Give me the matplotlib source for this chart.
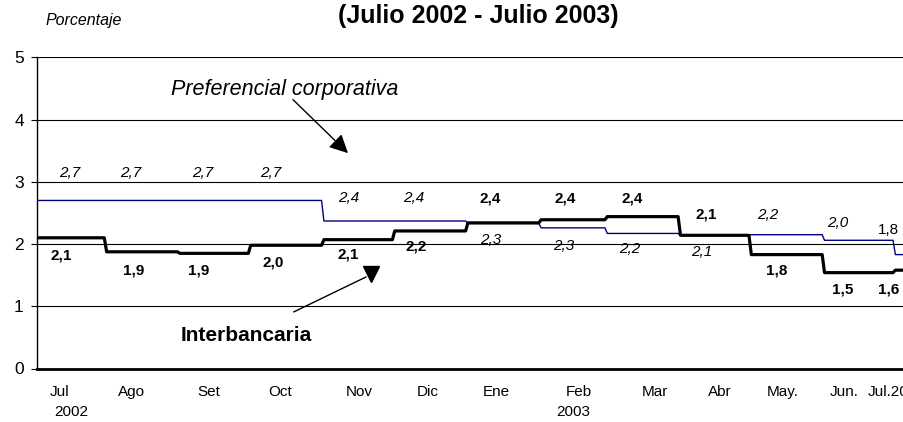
import numpy as np
import matplotlib.pyplot as plt
from matplotlib.transforms import blended_transform_factory

plt.rcParams['font.family'] = ['Liberation Sans', 'DejaVu Sans']

# monthly rates, Jul 2002 - Jul 2003
months = ['Jul', 'Ago', 'Set', 'Oct', 'Nov', 'Dic', 'Ene', 'Feb', 'Mar', 'Abr', 'May.', 'Jun.', 'Jul.2003']
preferencial = [2.70, 2.70, 2.70, 2.70, 2.37, 2.37, 2.33, 2.26, 2.17, 2.14, 2.15, 2.06, 1.83]
interbancaria = [2.10, 1.875, 1.85, 1.98, 2.07, 2.21, 2.34, 2.39, 2.44, 2.14, 1.83, 1.54, 1.58]
pref_labels = ['2,7', '2,7', '2,7', '2,7', '2,4', '2,4', '2,3', '2,3', '2,2', '2,1', '2,2', '2,0', '1,8']
inter_labels = ['2,1', '1,9', '1,9', '2,0', '2,1', '2,2', '2,4', '2,4', '2,4', '2,1', '1,8', '1,5', '1,6']

# days since 1 Jul 2002 for start / end of every month
starts = np.arange('2002-07', '2003-08', dtype='datetime64[M]').astype('datetime64[D]')
s = (starts - starts[0]).astype(int)
e = np.append(s[1:] - 1, s[-1] + 30)
x = np.column_stack([s, e]).ravel()

x0 = 1.5  # first visible day

# layout: label positions (days from axis start) and vertical offsets (pixels)
tick_pos = np.array([9.7, 40.2, 72.8, 102.9, 136.3, 165.5, 194.3, 229.5, 261.6, 289.2, 315.8, 342, 364]) + x0
pref_lx = np.array([14.0, 39.8, 70.3, 99.1, 132.1, 159.6, 192.2, 223.1, 251.1, 281.5, 309.5, 339.1, 360.7]) + x0
pref_dy = [27, 27, 27, 27, 23, 23, -17, -18, -16, -17, 20, 17, 25]
inter_lx = np.array([10.2, 41.1, 68.6, 99.9, 131.7, 160.5, 191.8, 223.5, 251.9, 283.2, 313.3, 341.2, 360.7]) + x0
inter_dy = [-18, -19, -17, -17, -15, -16, 24, 21, 18, 21, -16, -17, -19]

fig = plt.figure(figsize=(9.04, 4.22), dpi=100)
ax = fig.add_axes([37/904, 53.5/422, 869/904, 311.2/422])

ax.plot(x, np.repeat(preferencial, 2), color='#000080', lw=1.0, zorder=3)
ax.plot(x, np.repeat(interbancaria, 2), color='black', lw=2.3, zorder=4)

ax.set_xlim(x0, x0 + 368)
ax.set_ylim(0, 5)
ax.set_yticks([0, 1, 2, 3, 4, 5])
ax.yaxis.grid(True, color='black', lw=0.8)
ax.set_axisbelow(True)
ax.tick_params(axis='y', labelsize=12.5, length=4.5, width=0.8, pad=5)
ax.set_xticks(tick_pos)
ax.set_xticklabels(months)
ax.tick_params(axis='x', labelsize=11, length=0, pad=12)

for sp in ['top', 'right']:
    ax.spines[sp].set_visible(False)
ax.spines['left'].set_linewidth(1.0)
ax.spines['bottom'].set_linewidth(2.0)

for i, t in enumerate(pref_labels):
    ax.annotate(t, (pref_lx[i], preferencial[i]), xytext=(0, pref_dy[i] * 0.72),
                textcoords='offset points', ha='center', va='center', fontsize=11,
                style='italic' if i < len(pref_labels) - 1 else 'normal')
for i, t in enumerate(inter_labels):
    ax.annotate(t, (inter_lx[i], interbancaria[i]), xytext=(0, inter_dy[i] * 0.72),
                textcoords='offset points', ha='center', va='center', fontsize=11,
                fontweight='bold')

ax.text(106.3, 4.49, 'Preferencial corporativa', style='italic', fontsize=15.5,
        ha='center', va='center')
ax.annotate('', xy=(133.2, 3.46), xytext=(109.9, 4.32),
            arrowprops=dict(arrowstyle='-|>', mutation_scale=28, color='black', lw=1,
                            shrinkA=0, shrinkB=0))
ax.text(90, 0.53, 'Interbancaria', fontweight='bold', fontsize=15,
        ha='center', va='center')
ax.plot([110.3, 140.8], [0.91, 1.47], color='black', lw=1)
ax.plot([142.9], [1.52], marker='v', markersize=11.5, color='black')

trans = blended_transform_factory(ax.transData, ax.transAxes)
ax.text(16, -0.14, '2002', transform=trans, ha='center', va='center', fontsize=11)
ax.text(228.5, -0.14, '2003', transform=trans, ha='center', va='center', fontsize=11)

fig.text(478.5/904, 1 - 16.5/422, '(Julio 2002 - Julio 2003)', fontsize=18,
         fontweight='bold', ha='center', va='center')
fig.text(46/904, 1 - 21/422, 'Porcentaje', style='italic', fontsize=11.5,
         ha='left', va='center')

fig.savefig('out.png', dpi=100)
